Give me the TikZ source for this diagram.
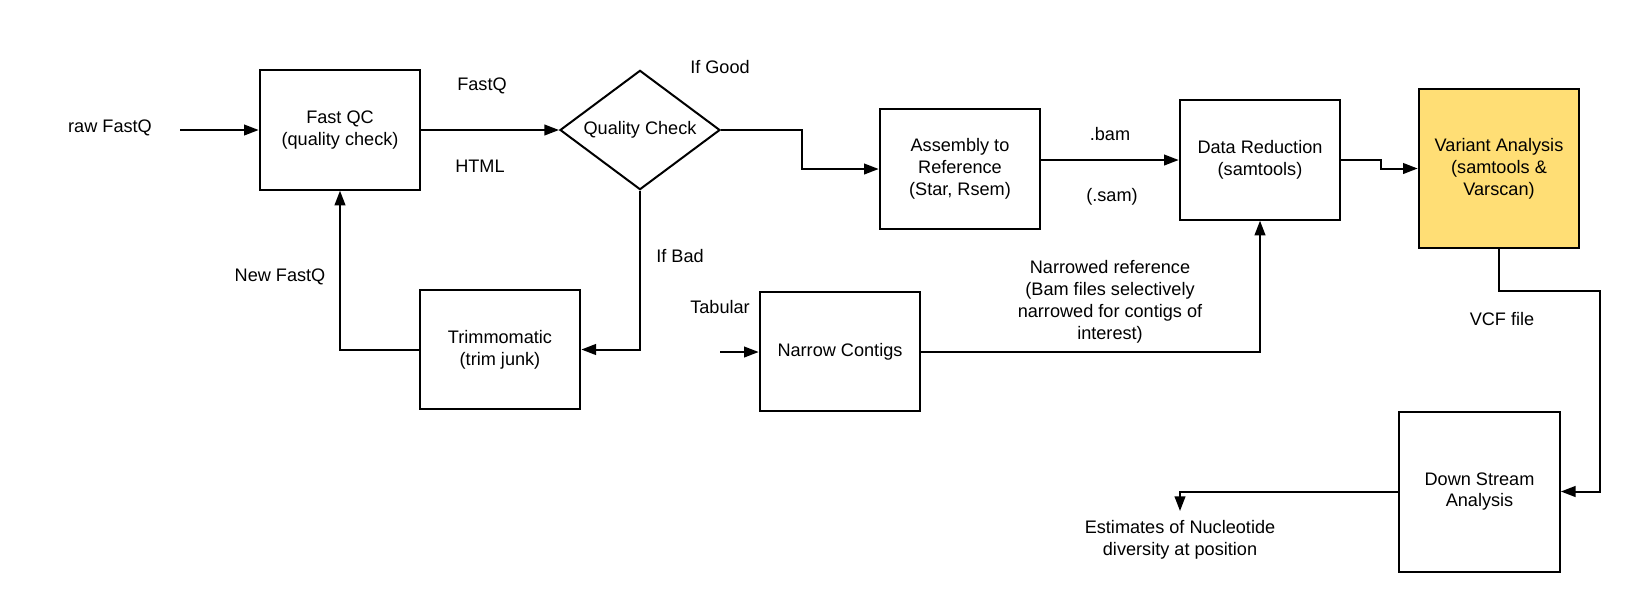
\documentclass[tikz,border=0pt]{standalone}
\usepackage{fontspec}
\setmainfont{Liberation Sans}
\usetikzlibrary{shapes.geometric,arrows.meta}
\definecolor{varyellow}{RGB}{255,222,117}
\newcommand\diagfont{\fontsize{13.6pt}{16.4pt}\selectfont}
\begin{document}
\begin{tikzpicture}[x=0.75pt,y=-0.75pt,
  box/.style={draw, line width=1.5pt, minimum width=120.5pt, minimum height=89.5pt, align=center, inner sep=2pt, font=\diagfont},
  lbl/.style={align=center, inner sep=0pt, font=\diagfont},
  conn/.style={line width=1.5pt, -{Triangle[length=11pt,width=8pt]}}]
\useasboundingbox (0,0) rectangle (1641,612);
% nodes
\node[lbl] (raw) at (110,128) {raw FastQ};
\coordinate (rawend) at (180,130);
\node[box] (fqc) at (340,130) {Fast QC\\(quality check)};
\node[diamond, aspect=1.34, draw, line width=1.5pt, minimum width=120pt, minimum height=89.5pt, inner sep=0pt, font=\diagfont] (qc) at (640,130) {Quality Check};
\node[lbl] (lfastq) at (482,86) {FastQ};
\node[lbl] (lhtml) at (480,166) {HTML};
\node[lbl] (lgood) at (720,67) {If Good};
\node[box] (asm) at (960,169) {Assembly to\\Reference\\(Star, Rsem)};
\node[lbl] (lbam) at (1110,134) {.bam};
\node[lbl] (lsam) at (1112,197) {(.sam)};
\node[box] (dr) at (1260,160) {Data Reduction\\(samtools)};
\node[box, fill=varyellow, minimum height=119.25pt] (va) at (1499,168.5) {Variant Analysis\\(samtools \&\\Varscan)};
\node[lbl] (lvcf) at (1502,319) {VCF file};
\node[box, minimum height=120pt] (ds) at (1479.5,491.5) {Down Stream\\Analysis};
\coordinate (est) at (1180,511);
\node[lbl] (lest) at (1180,539.5) {Estimates of Nucleotide\\diversity at position};
\node[lbl] (lbad) at (680,256) {If Bad};
\node[box] (trim) at (500,349.5) {Trimmomatic\\(trim junk)};
\node[lbl] (lnew) at (280,277) {New FastQ};
\node[lbl] (ltab) at (720,307) {Tabular};
\coordinate (tabstart) at (720,352);
\node[box] (nc) at (840,351.5) {Narrow Contigs};
\node[lbl] (lnar) at (1110,302) {Narrowed reference\\(Bam files selectively\\narrowed for contigs of\\interest)};
% connectors
\draw[conn] (rawend) -- (fqc.west);
\draw[conn] (fqc.east) -- (qc.west);
\draw[conn] (qc.east) -- ++(81,0) |- (asm.west);
\draw[conn] (asm.east |- dr.west) -- (dr.west);
\draw[conn] (dr.east) -- ++(40,0) |- (va.west);
\draw[conn] (va.south) -- ++(0,42) -- ++(101,0) |- (ds.east);
\draw[conn] (ds.west) -| (est);
\draw[conn] (qc.south) |- (trim.east);
\draw[conn] (trim.west) -| (fqc.south);
\draw[conn] (tabstart) -- (tabstart -| nc.west);
\draw[conn] (nc.east) -| (dr.south);
\end{tikzpicture}
\end{document}
